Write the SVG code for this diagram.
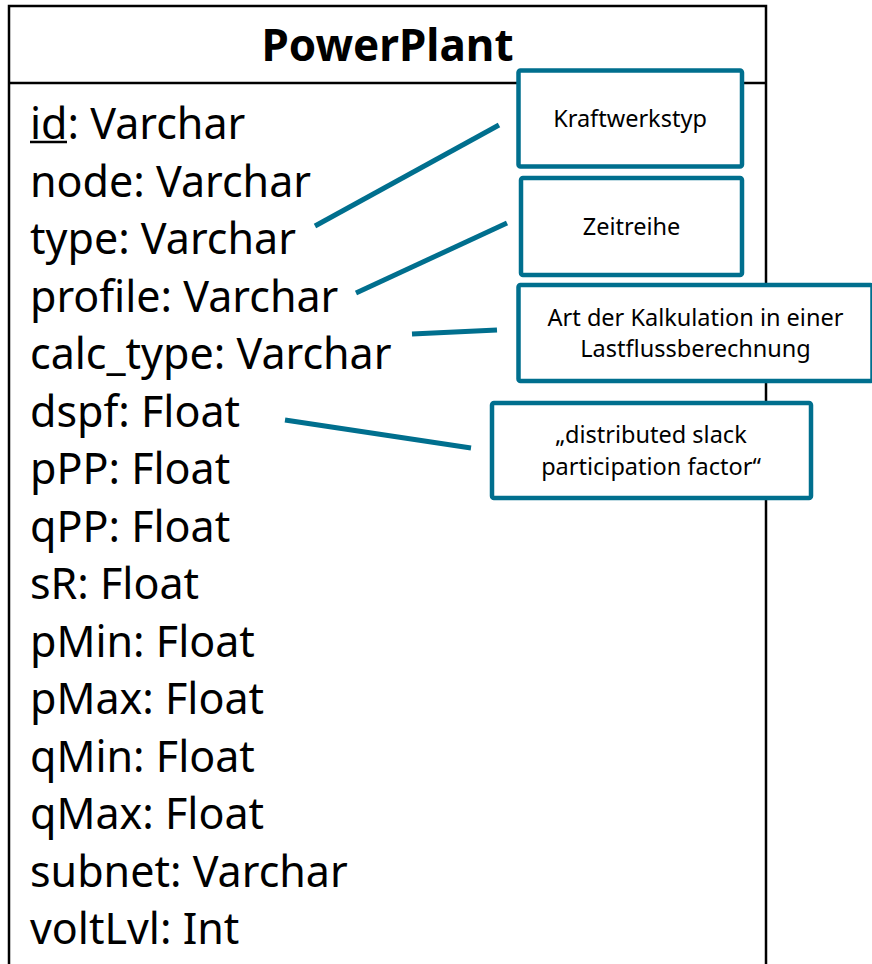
<svg xmlns="http://www.w3.org/2000/svg" width="872" height="964" viewBox="0 0 872 964">
<style>
.attr{font-family:"Noto Sans","Open Sans",sans-serif;font-size:43px;fill:#000}
.title{font-family:"Noto Sans","Open Sans",sans-serif;font-size:44px;font-weight:bold;fill:#000}
.note{fill:#fff;stroke:#006F8E;stroke-width:4.5}
.nt{font-family:"Noto Sans","Open Sans",sans-serif;font-size:23.5px;fill:#000;text-anchor:middle}
.conn{stroke:#006F8E;stroke-width:5;fill:none}
</style>
<rect width="872" height="964" fill="#fff"/>
<g id="PowerPlant">
<rect x="9" y="6" width="757" height="980" fill="#fff" stroke="#000" stroke-width="2.5"/>
<line x1="9" y1="83" x2="766" y2="83" stroke="#000" stroke-width="2.5"/>
<text class="title" x="387.5" y="61" text-anchor="middle">PowerPlant</text>
<text class="attr" x="30" y="139">id: Varchar</text>
<line x1="30" y1="142" x2="67" y2="142" stroke="#000" stroke-width="2.5"/>
<text class="attr" x="30" y="196.5">node: Varchar</text>
<text class="attr" x="30" y="254">type: Varchar</text>
<text class="attr" x="30" y="311.5">profile: Varchar</text>
<text class="attr" x="30" y="369">calc_type: Varchar</text>
<text class="attr" x="30" y="426.5">dspf: Float</text>
<text class="attr" x="30" y="484">pPP: Float</text>
<text class="attr" x="30" y="541.5">qPP: Float</text>
<text class="attr" x="30" y="599">sR: Float</text>
<text class="attr" x="30" y="656.5">pMin: Float</text>
<text class="attr" x="30" y="714">pMax: Float</text>
<text class="attr" x="30" y="771.5">qMin: Float</text>
<text class="attr" x="30" y="829">qMax: Float</text>
<text class="attr" x="30" y="886.5">subnet: Varchar</text>
<text class="attr" x="30" y="944">voltLvl: Int</text>
</g>
<g id="connectors">
<line class="conn" x1="315" y1="226" x2="499" y2="125"/>
<line class="conn" x1="356" y1="293" x2="507" y2="223"/>
<line class="conn" x1="412" y1="334" x2="497" y2="330"/>
<line class="conn" x1="285" y1="420" x2="471" y2="448"/>
</g>
<g id="note-kraftwerkstyp">
<rect class="note" x="518.5" y="70.5" width="223.5" height="96" rx="2"/>
<text class="nt" x="630" y="127">Kraftwerkstyp</text>
</g>
<g id="note-zeitreihe">
<rect class="note" x="521" y="178" width="221" height="97" rx="2"/>
<text class="nt" x="631.5" y="235">Zeitreihe</text>
</g>
<g id="note-kalkulation">
<rect class="note" x="518.5" y="285" width="354" height="96" rx="2"/>
<text class="nt" x="695.5" y="326">Art der Kalkulation in einer</text>
<text class="nt" x="695.5" y="357">Lastflussberechnung</text>
</g>
<g id="note-dspf">
<rect class="note" x="492" y="403" width="319" height="95" rx="2"/>
<text class="nt" x="651" y="443">„distributed slack</text>
<text class="nt" x="651" y="475">participation factor“</text>
</g>
</svg>
